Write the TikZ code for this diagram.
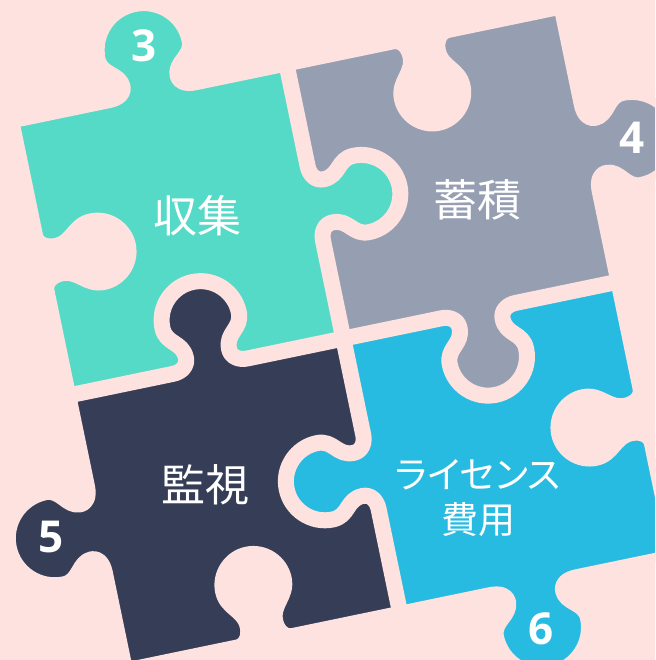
\documentclass[tikz,border=0pt]{standalone}
\usepackage{fontspec}
\newfontfamily\jpfont{Noto Sans CJK JP}
\newfontfamily\jpkana{Noto Sans CJK JP}[RawFeature=+palt]
\newfontfamily\numfont{Open Sans}

\definecolor{bgpink}{HTML}{FDE2DF}
\definecolor{tealpc}{HTML}{54DAC6}
\definecolor{graypc}{HTML}{969EB2}
\definecolor{navypc}{HTML}{363E57}
\definecolor{cyanpc}{HTML}{27BBE2}

% tab outlines: centred on the side, bulging towards +y
\newcommand\outertab{(-44,0) .. controls (-34,0) and (-28,4) .. (-28,10)
  .. controls (-28,24) and (-47,26) .. (-47,42)
  .. controls (-47,68) and (-26,89) .. (0,89)
  .. controls (26,89) and (47,68) .. (47,42)
  .. controls (47,26) and (28,24) .. (28,10)
  .. controls (28,4) and (34,0) .. (44,0)}
\newcommand\innertab{(-38,0) .. controls (-29,0) and (-22,5) .. (-22,13)
  .. controls (-22,30) and (-39,30) .. (-39,47)
  .. controls (-39,68.5) and (-21.5,86) .. (0,86)
  .. controls (21.5,86) and (39,68.5) .. (39,47)
  .. controls (39,30) and (22,30) .. (22,13)
  .. controls (22,5) and (29,0) .. (38,0)}
\newcommand\blanktab{(-28,0) .. controls (-20,0) and (-14,8) .. (-14,18)
  .. controls (-14,36) and (-31,40) .. (-31,58)
  .. controls (-31,75) and (-17,89) .. (0,89)
  .. controls (17,89) and (31,75) .. (31,58)
  .. controls (31,40) and (14,36) .. (14,18)
  .. controls (14,8) and (20,0) .. (28,0)}

% sides: tab centre / rotation / ends of the side / outline / fill
\newcommand\sides{
  -137/281/0/-144/137/\outertab/tealpc,
  -281/135/-90/-146/135/\blanktab/bgpink,
  137/281/180/-144/137/\blanktab/bgpink,
  281/137/-90/-144/137/\outertab/graypc,
  -281/-137/90/-144/137/\outertab/navypc,
  -138/-281/0/-143/138/\blanktab/bgpink,
  281/-137/90/-144/137/\blanktab/bgpink,
  136/-281/180/-145/136/\outertab/cyanpc,
  0/138/-90/-143/138/\innertab/tealpc,
  -136/0/0/-145/136/\innertab/navypc,
  138/0/180/-143/138/\innertab/graypc,
  0/-136/90/-145/136/\innertab/cyanpc}

\begin{document}
\begin{tikzpicture}[x=1pt, y=1pt,
    seam/.style={draw=bgpink, line width=16pt, line join=round},
    word/.style={text=white, inner sep=0pt, font={\jpfont\fontsize{44}{48}\selectfont}},
    num/.style={text=white, inner sep=0pt, font={\numfont\bfseries\fontsize{44}{48}\selectfont}}]

  % background
  \fill[bgpink] (0,0) rectangle (655,660);
  \useasboundingbox (0,0) rectangle (655,660);
  \clip (0,0) rectangle (655,660);

  \begin{scope}[shift={(343.3,321.4)}, rotate=11.7]
    % the four squares
    \fill[tealpc] (-281,0) rectangle (0,281);
    \fill[graypc] (0,0) rectangle (281,281);
    \fill[navypc] (-281,-281) rectangle (0,0);
    \fill[cyanpc] (0,-281) rectangle (281,0);

    % tabs and blanks (reaching a little back over the side)
    \foreach \px/\py/\rot/\ta/\tb/\kind/\col in \sides
      \fill[\col, shift={(\px,\py)}, rotate=\rot] \kind -- (44,-6) -- (-44,-6) -- cycle;

    % gaps between the pieces
    \foreach \px/\py/\rot/\ta/\tb/\kind/\col in \sides
      \draw[seam, shift={(\px,\py)}, rotate=\rot] (\ta,0) -- \kind -- (\tb,0);
  \end{scope}

  % labels
  \node[word] (collect) at (197.5,444) {収集};
  \node[word] (store) at (477.5,460) {蓄積};
  \node[word] (watch) at (205,175) {監視};
  \node[word, align=center, font={\jpkana\fontsize{37}{45}\selectfont}] (license) at (478,161.5) {ライセンス\\費用};

  % numbers on the outer tabs
  \node[num] (n3) at (144,614) {3};
  \node[num] (n4) at (632,522.5) {4};
  \node[num] (n5) at (51,123) {5};
  \node[num] (n6) at (541.5,31) {6};
\end{tikzpicture}
\end{document}
